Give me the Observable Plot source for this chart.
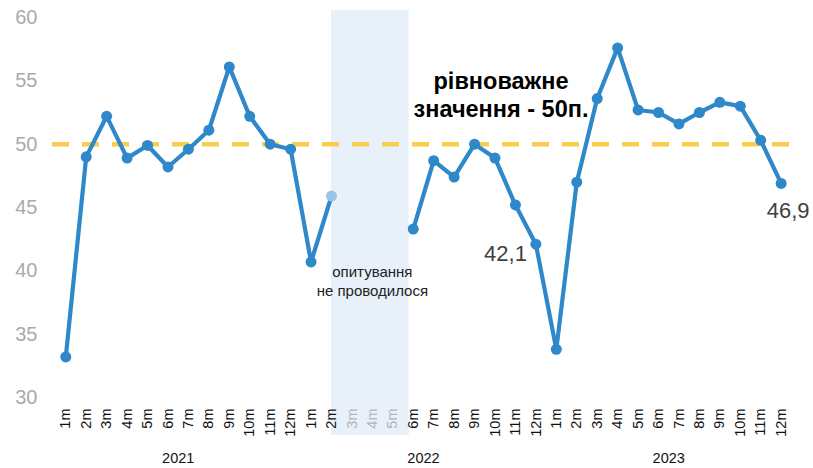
<!DOCTYPE html>
<html><head><meta charset="utf-8">
<script src="https://cdn.jsdelivr.net/npm/d3@7"></script>
<script src="https://cdn.jsdelivr.net/npm/@observablehq/plot@0.6"></script>
<style>body{margin:0;background:#fff;}</style>
</head><body><div id="chart"></div>
<script>
const years = ["2021", "2022", "2023"];
const months = ["1m","2m","3m","4m","5m","6m","7m","8m","9m","10m","11m","12m"];
const values2021 = [33.2, 49.0, 52.2, 48.9, 49.9, 48.2, 49.6, 51.1, 56.1, 52.2, 50.0, 49.6];
const values2022 = [40.7, 45.9, null, null, null, 43.3, 48.7, 47.4, 50.0, 48.9, 45.2, 42.1];
const values2023 = [33.8, 47.0, 53.6, 57.6, 52.7, 52.5, 51.6, 52.5, 53.3, 53.0, 50.3, 46.9];
const noSurvey = ["2022 3m", "2022 4m", "2022 5m"];
const faded = ["2022 2m"];
const labelled = ["2022 12m", "2023 12m"];
const equilibrium = 50;
const yTicks = [30, 35, 40, 45, 50, 55, 60];
const eqText = "рівноважне\nзначення - 50п.";
const noSurveyText = "опитування\nне проводилося";

const seriesValues = [values2021, values2022, values2023];
const rows = [];
years.forEach((yr, yi) => months.forEach((m, mi) => {
  rows.push({i: yi * 12 + mi, year: yr, month: m, key: yr + " " + m, value: seriesValues[yi][mi]});
}));
const idx = k => rows.find(r => r.key === k).i;
const valid = rows.filter(r => r.value != null);

const shade = [{x1: idx("2022 2m"), x2: idx("2022 6m") - 0.2, y1: 27, y2: 60.55}];
const blue = "#2E88C9";

const plot = Plot.plot({
  width: 813, height: 468,
  marginLeft: 52, marginRight: 16, marginTop: 17, marginBottom: 71,
  style: {fontFamily: "'Liberation Sans', Arial, sans-serif", background: "white", overflow: "visible"},
  x: {type: "linear", domain: [-0.65, 35.8]},
  y: {domain: [30, 60]},
  marks: [
    Plot.rect(shade, {x1: "x1", x2: "x2", y1: "y1", y2: "y2", fill: "#E8F1FA"}),
    Plot.ruleY([equilibrium], {stroke: "#F9CE4B", strokeWidth: 4.5, strokeDasharray: "17,13"}),
    Plot.line(rows, {x: "i", y: "value", stroke: blue, strokeWidth: 4.2}),
    Plot.dot(valid.filter(r => !faded.includes(r.key)), {x: "i", y: "value", r: 5.5, fill: blue}),
    Plot.dot(valid.filter(r => faded.includes(r.key)), {x: "i", y: "value", r: 5.5, fill: "#97C4E8"}),
    Plot.axisY({ticks: yTicks, tickSize: 0, tickPadding: 15, fontSize: 20, fill: "#AAAAAA", label: null}),
    Plot.axisX({
      ticks: rows.map(r => r.i),
      tickFormat: i => rows[i].month,
      tickRotate: -90, tickSize: 0, tickPadding: 11, fontSize: 14.5, label: null,
      fill: i => noSurvey.includes(rows[i].key) ? "#B5B5B5" : "#111111"
    }),
    Plot.text(years, {x: (d, k) => k * 12 + 5.5, frameAnchor: "bottom", dy: 65, fontSize: 14.5, fill: "#111"}),
    Plot.text(valid.filter(r => r.key === labelled[0]), {
      x: "i", y: "value", text: d => String(d.value).replace(".", ","),
      textAnchor: "end", dx: -9, dy: 10, fontSize: 22, fill: "#404040"
    }),
    Plot.text(valid.filter(r => r.key === labelled[1]), {
      x: "i", y: "value", text: d => String(d.value).replace(".", ","),
      dx: 7, dy: 28, fontSize: 22, fill: "#404040"
    }),
    Plot.text([eqText], {x: idx("2022 10m"), y: 53.95, dx: 6, text: d => d, fontSize: 23.5, fontWeight: "bold", lineHeight: 1.17, fill: "#000"}),
    Plot.text([noSurveyText], {x: idx("2022 4m"), y: 39.23, text: d => d, fontSize: 15, lineHeight: 1.24, fill: "#222"})
  ]
});
document.getElementById("chart").append(plot);
</script>
</body></html>
